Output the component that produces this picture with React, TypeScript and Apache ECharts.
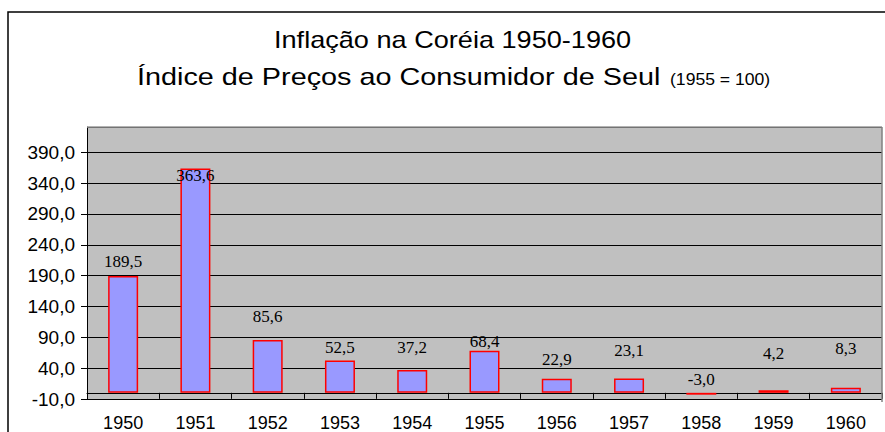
import React, { useEffect, useRef } from "react";
import * as echarts from "echarts";

const years = ["1950", "1951", "1952", "1953", "1954", "1955", "1956", "1957", "1958", "1959", "1960"];
const inflation = [189.5, 363.6, 85.6, 52.5, 37.2, 68.4, 22.9, 23.1, -3.0, 4.2, 8.3];
const yMin = -10;
const yMax = 431;
const yStep = 50;
// vertical nudges of the value labels (pixels), as placed in the original
const labelShift = [-6, 15, -15, -4, -14, -1, -11, -20, -5, -28, -31];

const titleLine1 = "Inflação na Coréia 1950-1960";
const titleLine2 = "Índice de Preços ao Consumidor de Seul";
const titleNote = "(1955 = 100)";

const SANS = "'Liberation Sans', Arial, sans-serif";
const SERIF = "'Liberation Serif', 'Times New Roman', serif";

export default function App() {
  const ref = useRef<HTMLDivElement>(null);
  useEffect(() => {
    if (!ref.current) return;
    const chart = echarts.init(ref.current, null, { renderer: "svg" });
    const fmt = (v: number) => v.toFixed(1).replace(".", ",");
    chart.setOption({
      animation: false,
      backgroundColor: "#ffffff",
      grid: {
        left: 87,
        top: 127,
        right: 3,
        bottom: 30,
        show: true,
        backgroundColor: "#C0C0C0",
        borderWidth: 0,
      },
      xAxis: {
        type: "category",
        data: years,
        axisLine: { onZero: true, lineStyle: { color: "#000", width: 1 } },
        axisTick: { show: true, length: 6, inside: false, lineStyle: { color: "#000" } },
        axisLabel: { color: "#000", fontFamily: SANS, fontSize: 18, margin: 15 },
        splitLine: { show: false },
      },
      yAxis: {
        type: "value",
        min: yMin,
        max: yMax,
        interval: yStep,
        axisLine: { show: true, lineStyle: { color: "#000", width: 1 } },
        axisTick: { show: true, length: 6, lineStyle: { color: "#000" } },
        axisLabel: {
          color: "#000",
          fontFamily: SANS,
          fontSize: 19,
          margin: 12,
          showMaxLabel: false,
          formatter: (v: number) => fmt(v),
        },
        splitLine: { show: true, lineStyle: { color: "#000", width: 1 } },
      },
      series: [
        {
          type: "bar",
          data: inflation.map((v, i) => ({
            value: v,
            label: { offset: [0, labelShift[i]] },
          })),
          barWidth: 30,
          itemStyle: { color: "#9999FF", borderColor: "#FF0000", borderWidth: 1.5 },
          label: {
            show: true,
            position: "top",
            distance: 0,
            color: "#000",
            fontFamily: SERIF,
            fontSize: 17,
            formatter: (p: any) => fmt(p.value),
          },
        },
      ],
      graphic: [
        {
          type: "rect",
          silent: true,
          z: -10,
          shape: { x: 8, y: 12, width: 900, height: 440 },
          style: { fill: "none", stroke: "#000", lineWidth: 1.5 },
        },
        {
          type: "line",
          silent: true,
          z: 100,
          shape: { x1: 87, y1: 127, x2: 882, y2: 127 },
          style: { stroke: "#9a9a9a", lineWidth: 1.5 },
        },
        {
          type: "line",
          silent: true,
          z: 100,
          shape: { x1: 882, y1: 127, x2: 882, y2: 402 },
          style: { stroke: "#808080", lineWidth: 1.5 },
        },
        {
          type: "text",
          x: 274,
          y: 28,
          scaleX: 1.13,
          style: {
            text: titleLine1,
            font: `24px ${SANS}`,
            fill: "#000",
            align: "left",
            verticalAlign: "top",
          },
        },
        {
          type: "text",
          x: 137,
          y: 65,
          scaleX: 1.2,
          style: {
            text: titleLine2,
            font: `24px ${SANS}`,
            fill: "#000",
            align: "left",
            verticalAlign: "top",
          },
        },
        {
          type: "text",
          x: 670,
          y: 72,
          scaleX: 1.1,
          style: {
            text: titleNote,
            font: `16px ${SANS}`,
            fill: "#000",
            align: "left",
            verticalAlign: "top",
          },
        },
      ],
    });
    return () => chart.dispose();
  }, []);
  return (
    <div
      ref={ref}
      style={{ position: "absolute", left: 0, top: 0, width: 885, height: 432 }}
    />
  );
}
